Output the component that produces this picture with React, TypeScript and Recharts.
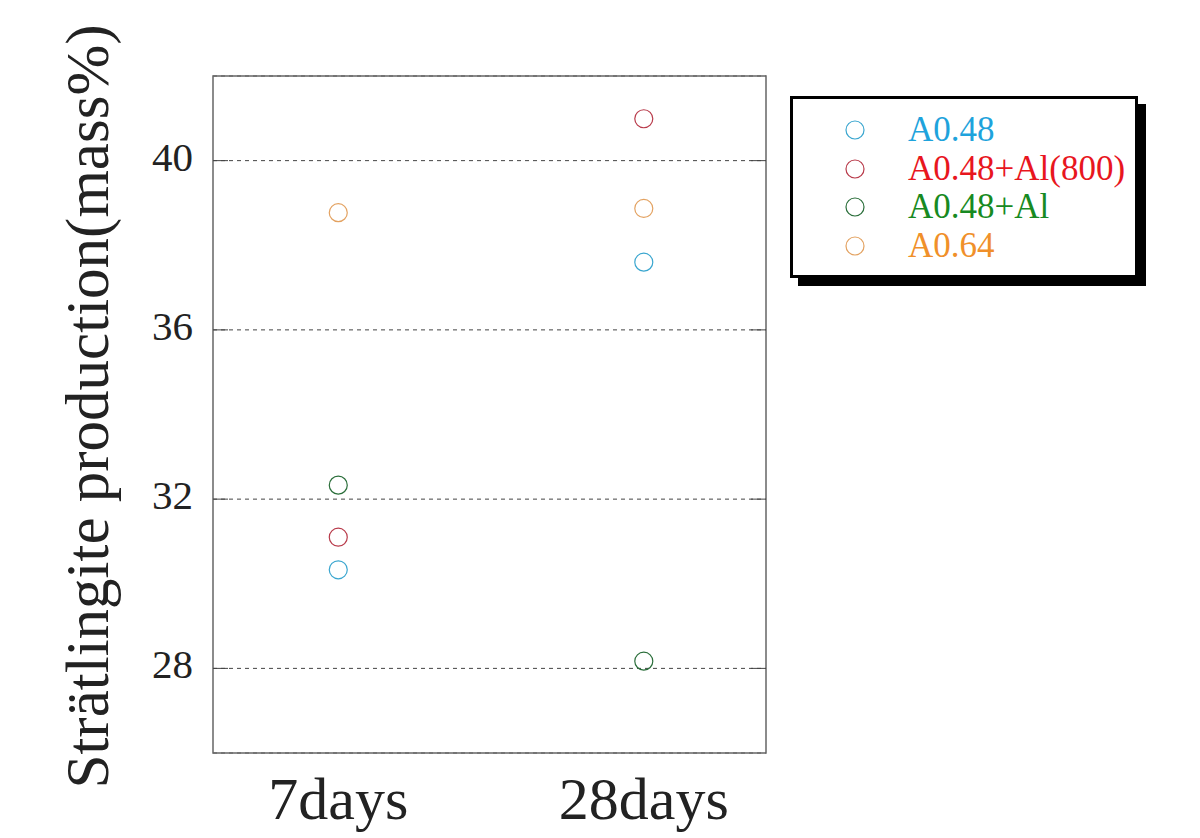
import React from 'react';
import {
  ScatterChart,
  Scatter,
  XAxis,
  YAxis,
  CartesianGrid,
  ReferenceArea,
  Legend,
} from 'recharts';

const categories = ['7days', '28days'];
const seriesNames = ['A0.48', 'A0.48+Al(800)', 'A0.48+Al', 'A0.64'];
const a048 = [30.33, 37.6];
const a048Al800 = [31.1, 40.99];
const a048Al = [32.33, 28.17];
const a064 = [38.77, 38.87];
const yTicks = [28, 32, 36, 40];
const yDomain = [26, 42];
const xDomain = [-0.41, 1.40];

const markerColors = ['#3aa6cf', '#b83a4a', '#2a6e3a', '#e3a261'];
const textColors = ['#1ea3dc', '#e8161e', '#178a22', '#f0902a'];
const seriesValues = [a048, a048Al800, a048Al, a064];

const FONT = '"Liberation Serif", "Times New Roman", serif';

const makeData = (vals: number[]) => vals.map((v, i) => ({ x: i, y: v }));

const circleShape = (color: string) => (props: any) => (
  <circle cx={props.cx} cy={props.cy} r={9} fill="none" stroke={color} strokeWidth={1.2} />
);

const YTick = (props: any) => {
  const { x, y, payload } = props;
  return (
    <text x={x} y={y} dy={10} textAnchor="end" fontSize={41} fontFamily={FONT} fill="#222">
      {payload.value}
    </text>
  );
};

const XTick = (props: any) => {
  const { x, y, payload } = props;
  return (
    <text x={x} y={y} dy={58} textAnchor="middle" fontSize={60} fontFamily={FONT} fill="#222">
      {categories[payload.value]}
    </text>
  );
};

const EmptyTick = () => <g />;

const YTitle = (props: any) => {
  const vb = props.viewBox || { x: 0, y: 0, width: 0, height: 0 };
  const bx = vb.x + 108;
  const cy = vb.y + vb.height / 2 - 8;
  return (
    <text
      x={bx}
      y={cy}
      transform={`rotate(-90 ${bx} ${cy})`}
      textAnchor="middle"
      fontSize={61}
      fontFamily={FONT}
      fill="#222"
    >
      Strätlingite production(mass%)
    </text>
  );
};

const LegendBox = () => (
  <div
    style={{
      width: 342,
      height: 164,
      border: '3px solid #000',
      boxShadow: '8px 8px 0 #000',
      background: '#fff',
      boxSizing: 'content-box',
      paddingTop: 12,
      fontFamily: FONT,
    }}
  >
    {seriesNames.map((n, i) => (
      <div key={n} style={{ display: 'flex', alignItems: 'center', height: 38.5 }}>
        <svg width={20} height={20} style={{ marginLeft: 52, marginRight: 43 }}>
          <circle cx={10} cy={10} r={9} fill="none" stroke={markerColors[i]} strokeWidth={1.2} />
        </svg>
        <span style={{ fontSize: 35, color: textColors[i], lineHeight: '38px' }}>{n}</span>
      </div>
    ))}
  </div>
);

export default function App() {
  return (
    <div style={{ position: 'absolute', left: 0, top: 0, width: 1200, height: 838, background: '#fff' }}>
      <ScatterChart width={1200} height={838} margin={{ top: 76, right: 424, bottom: 0, left: 0 }}>
        <CartesianGrid vertical={false} stroke="#444" strokeDasharray="4 4" />
        <XAxis
          type="number"
          dataKey="x"
          domain={xDomain}
          ticks={[0, 1]}
          allowDataOverflow
          axisLine={false}
          tickLine={false}
          height={85}
          tick={<XTick />}
        />
        <YAxis
          type="number"
          dataKey="y"
          domain={yDomain}
          ticks={yTicks}
          allowDataOverflow
          width={213}
          axisLine={false}
          tickSize={-15}
          tickMargin={35}
          tickLine={{ stroke: '#444' }}
          tick={<YTick />}
          label={<YTitle />}
        />
        <YAxis
          yAxisId="r"
          orientation="right"
          type="number"
          domain={yDomain}
          ticks={yTicks}
          allowDataOverflow
          width={10}
          axisLine={false}
          tickSize={-15}
          tickLine={{ stroke: '#444' }}
          tick={EmptyTick}
        />
        <ReferenceArea
          x1={xDomain[0]}
          x2={xDomain[1]}
          y1={yDomain[0]}
          y2={yDomain[1]}
          fill="none"
          fillOpacity={0}
          stroke="#666"
          strokeWidth={1.5}
          ifOverflow="extendDomain"
        />
        {seriesNames.map((n, i) => (
          <Scatter
            key={n}
            name={n}
            data={makeData(seriesValues[i])}
            fill={markerColors[i]}
            shape={circleShape(markerColors[i])}
            isAnimationActive={false}
          />
        ))}
        <Legend
          layout="vertical"
          align="center"
          verticalAlign="middle"
          content={<LegendBox />}
          wrapperStyle={{ left: 790, top: 96, width: 'auto', right: 'auto', bottom: 'auto' }}
        />
      </ScatterChart>
    </div>
  );
}
